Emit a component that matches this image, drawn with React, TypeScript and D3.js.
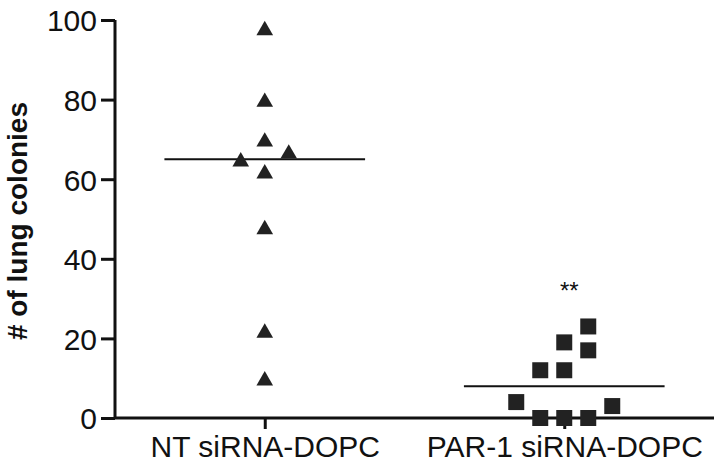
import React, { useRef, useEffect } from "react";
import * as d3 from "d3";

// groups on the x axis
const groups = ["NT siRNA-DOPC", "PAR-1 siRNA-DOPC"];

// colonies per mouse
const ntValues = [98, 80, 70, 62, 65, 67, 48, 22, 10];
const parValues = [23, 19, 17, 12, 12, 4, 3, 0, 0, 0];

// scatter column of each point (which side of the centre it got pushed to)
const ntJitter = [0, 0, 0, 0, -1, 1, 0, 0, 0];
const parJitter = [1, 0, 1, -1, 0, -2, 2, -1, 0, 1];

const yTicks = [0, 20, 40, 60, 80, 100];
const sigLabel = "**";

export default function App() {
  const svgRef = useRef<SVGSVGElement>(null);

  useEffect(() => {
    const width = 716;
    const height = 468;
    const left = 115, right = 714, top = 20, bottom = 418;
    const font = "'Liberation Sans', Arial, sans-serif";

    const svg = d3.select(svgRef.current);
    svg.selectAll("*").remove();
    svg.attr("width", width).attr("height", height);

    const x = d3.scalePoint<string>().domain(groups).range([left, right]).padding(0.5);
    const y = d3.scaleLinear().domain([0, 100]).range([bottom, top]);
    const step = x.step();
    const colW = 24; // spacing between scatter columns

    // y axis
    const yAxis = svg.append("g")
      .attr("transform", `translate(${left},0)`)
      .call(d3.axisLeft(y).tickValues(yTicks).tickSize(14).tickPadding(4));
    yAxis.select(".domain").attr("d", `M0,${top}V${bottom}`).attr("stroke", "#111").attr("stroke-width", 3);
    yAxis.selectAll(".tick line").attr("stroke", "#111").attr("stroke-width", 3);
    yAxis.selectAll(".tick text")
      .attr("font-family", font).attr("font-size", 30).attr("fill", "#111")
      .attr("dy", "0.36em");

    // x axis
    const xAxis = svg.append("g")
      .attr("transform", `translate(0,${bottom})`)
      .call(d3.axisBottom(x).tickSize(11).tickPadding(8));
    xAxis.select(".domain").attr("d", `M${left},0H${right}`).attr("stroke", "#111").attr("stroke-width", 3);
    xAxis.selectAll(".tick line").attr("stroke", "#111").attr("stroke-width", 3);
    xAxis.selectAll(".tick text")
      .attr("font-family", font).attr("font-size", 30).attr("fill", "#111")
      .attr("dy", "0.65em");

    // axis title
    svg.append("text")
      .attr("transform", `translate(27,${(top + bottom) / 2 + 2}) rotate(-90)`)
      .attr("text-anchor", "middle")
      .attr("font-family", font)
      .attr("font-weight", "bold")
      .attr("font-size", 28)
      .attr("fill", "#111")
      .text("# of lung colonies");

    const sets = [
      { name: groups[0], values: ntValues, jitter: ntJitter, shape: d3.symbolTriangle, size: 120, shift: 2.4 },
      { name: groups[1], values: parValues, jitter: parJitter, shape: d3.symbolSquare, size: 256, shift: 0 },
    ];

    sets.forEach(s => {
      const cx = x(s.name) as number;
      const med = d3.median(s.values) as number;

      // median line
      svg.append("line")
        .attr("x1", cx - step * 0.335).attr("x2", cx + step * 0.335)
        .attr("y1", y(med)).attr("y2", y(med))
        .attr("stroke", "#111").attr("stroke-width", 2);

      svg.append("g")
        .selectAll("path")
        .data(s.values)
        .join("path")
        .attr("transform", (d, i) => `translate(${cx + s.jitter[i] * colW},${y(d) + s.shift})`)
        .attr("d", d3.symbol(s.shape, s.size)())
        .attr("fill", "#222");
    });

    // significance mark over the PAR-1 group
    svg.append("text")
      .attr("x", (x(groups[1]) as number) + 5)
      .attr("y", y(30))
      .attr("text-anchor", "middle")
      .attr("font-family", font)
      .attr("font-size", 24)
      .attr("fill", "#111")
      .text(sigLabel);
  }, []);

  return (
    <svg ref={svgRef} style={{ position: "absolute", left: 0, top: 0, background: "#fff" }}></svg>
  );
}
